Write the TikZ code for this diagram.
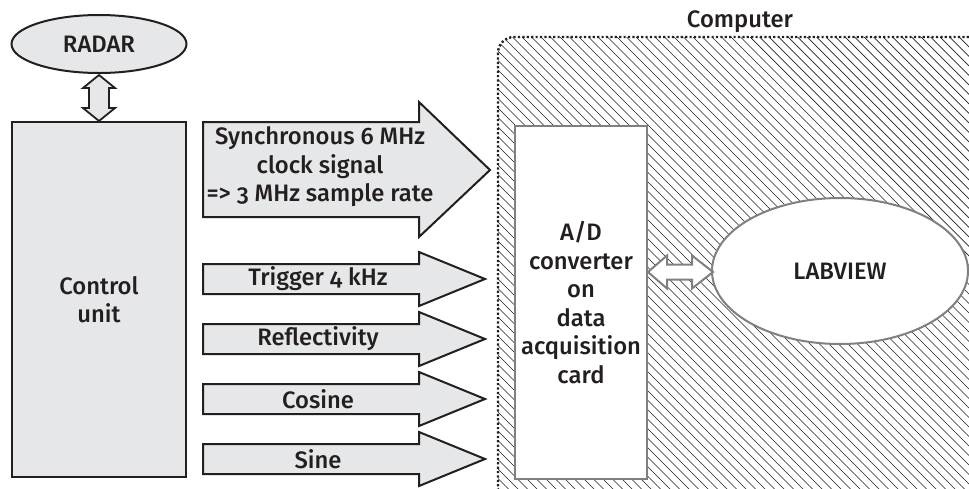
\documentclass[tikz,border=0pt]{standalone}
\usepackage{fontspec}
\setmainfont{Fira Sans}[Numbers=OldStyle, UprightFont=* Medium]
\usetikzlibrary{shapes.geometric}
\definecolor{boxgray}{RGB}{230,231,232}
\definecolor{edgegray}{RGB}{128,128,128}
\definecolor{ink}{RGB}{35,31,32}
\begin{document}
\begin{tikzpicture}[x=0.5pt,y=-0.5pt, font=\fontsize{11.9}{14.25}\selectfont, text=ink,
  blk/.style={draw=ink, line width=1pt, fill=boxgray},
  gry/.style={draw=edgegray, line width=1pt, fill=white},
  lbl/.style={align=center, inner sep=0pt},
  hatch/.style={line width=0.35pt, draw=ink}]
\useasboundingbox (0,0) rectangle (969,488);

% computer area with hatching
\begin{scope}
  \clip[rounded corners=8pt] (498,37) rectangle (990,505);
  \foreach \i in {0,...,110} { \draw[hatch] (\i*9.5-10,37) -- ++(480,480); }
\end{scope}
\draw[ink, line width=1.2pt, dash pattern=on 1.1pt off 1.1pt, rounded corners=8pt] (498,37) rectangle (990,505);
\node[lbl] (comp) at (740,22) {Computer};

% nodes
\node[blk, ellipse, minimum width=87.5pt, minimum height=29pt, inner sep=0pt] (radar) at (99,44) {RADAR};
\node[blk, minimum width=87pt, minimum height=177.5pt, inner sep=0pt, align=center] (ctrl) at (99,299.5) {Control\\unit};
\node[gry, minimum width=66pt, minimum height=176.5pt, inner sep=0pt, align=center] (ad) at (581,302.5) {A/D\\converter\\on\\data\\acquisition\\card};
\node[gry, ellipse, minimum width=128pt, minimum height=73pt, inner sep=0pt] (lab) at (840,271) {LABVIEW};

% radar <-> control unit
\draw[blk, line width=0.9pt] (99,75) -- (115,88) -- (109,88) -- (109,108) -- (115,108) -- (99,121) -- (83,108) -- (89,108) -- (89,88) -- (83,88) -- cycle;

% A/D <-> LABVIEW
\draw[gry] (648,272) -- (667,255.5) -- (667,264.5) -- (692,264.5) -- (692,255.5) -- (713,272) -- (692,288.5) -- (692,279.5) -- (667,279.5) -- (667,288.5) -- cycle;

% big clock arrow
\draw[blk] (203,122) -- (419,122) -- (419,102) -- (490,170) -- (419,237) -- (419,217) -- (203,217) -- cycle;
\node[lbl] (sync) at (320,167) {Synchronous 6 MHz\\clock signal\\=> 3 MHz sample rate};

% signal arrows
\foreach \yc/\nm/\txt in {279/trig/Trigger 4 kHz, 339/refl/Reflectivity, 399/cosn/Cosine, 459/sine/Sine} {
  \draw[blk] (203,\yc-15) -- (419,\yc-15) -- (419,\yc-27) -- (485,\yc) -- (419,\yc+27) -- (419,\yc+15) -- (203,\yc+15) -- cycle;
  \node[lbl] (\nm) at (318,\yc) {\txt};
}
\end{tikzpicture}
\end{document}
